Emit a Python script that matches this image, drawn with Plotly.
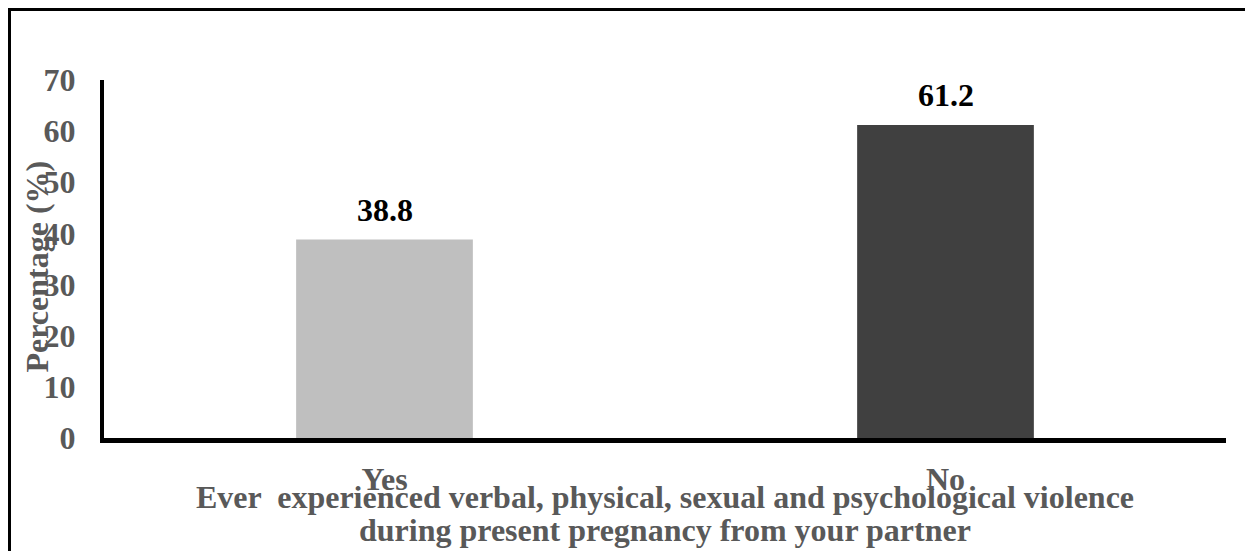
import plotly.graph_objects as go

categories = ["Yes", "No"]
values = [38.8, 61.2]
bar_colors = ["#BFBFBF", "#404040"]
y_ticks = [0, 10, 20, 30, 40, 50, 60, 70]
y_title = "Percentage (%)"
x_title_lines = [
    "Ever  experienced verbal, physical, sexual and psychological violence",
    "during present pregnancy from your partner",
]

OFF = 8  # page body margin
W, H = 1253 - OFF, 551 - OFF
ML, MT = 104 - OFF, 80 - OFF
MR = W - (1226 - OFF)
MB = H - (438 - OFF)
PW, PH = W - ML - MR, H - MT - MB

FONT = "Liberation Serif, Times New Roman, serif"
GRAY = "#595959"

def px_x(px):
    return (px - OFF - ML) / PW

def px_y(py):
    return (H - MB - (py - OFF)) / PH

fig = go.Figure()
fig.add_trace(go.Bar(
    x=categories, y=values,
    marker=dict(color=bar_colors, line=dict(width=0)),
    hoverinfo="skip",
))

# data labels
for c, v in zip(categories, values):
    fig.add_annotation(
        x=c, y=v, xref="x", yref="y", text=f"{v}",
        showarrow=False, yanchor="bottom", yshift=10,
        font=dict(family=FONT, size=32, color="black", weight="bold"),
    )

# y-axis title
fig.add_annotation(
    x=px_x(36), y=px_y(266.5), xref="paper", yref="paper",
    text=y_title, textangle=-90, showarrow=False,
    xanchor="center", yanchor="middle",
    font=dict(family=FONT, size=32, color=GRAY, weight="bold"),
)

# x-axis title (two lines, tight spacing)
for i, line in enumerate(x_title_lines):
    fig.add_annotation(
        x=0.5, y=px_y(497 + 33 * i), xref="paper", yref="paper",
        text=line, showarrow=False,
        xanchor="center", yanchor="middle",
        font=dict(family=FONT, size=32, color=GRAY, weight="bold"),
    )

# outer border
fig.add_shape(
    type="rect", xref="paper", yref="paper",
    x0=px_x(8), x1=px_x(1253 + 30),
    y0=px_y(551 + 30), y1=px_y(8),
    line=dict(color="black", width=6), fillcolor="rgba(0,0,0,0)",
    layer="above",
)

fig.update_layout(
    width=W, height=H,
    margin=dict(l=ML, r=MR, t=MT, b=MB, pad=0),
    paper_bgcolor="white", plot_bgcolor="white",
    showlegend=False, bargap=0.685,
    font=dict(family=FONT, size=32, color=GRAY),
)
fig.update_xaxes(
    showline=True, linecolor="black", linewidth=5,
    showgrid=False, zeroline=False, ticks="",
    tickfont=dict(family=FONT, size=32, color=GRAY, weight="bold"),
    ticklabelstandoff=9,
)
fig.update_yaxes(
    range=[0, 70], tickvals=y_ticks,
    showline=True, linecolor="black", linewidth=4,
    showgrid=False, zeroline=False, ticks="",
    tickfont=dict(family=FONT, size=32, color=GRAY, weight="bold"),
    ticklabelstandoff=18,
)

fig.write_html("out.html")
